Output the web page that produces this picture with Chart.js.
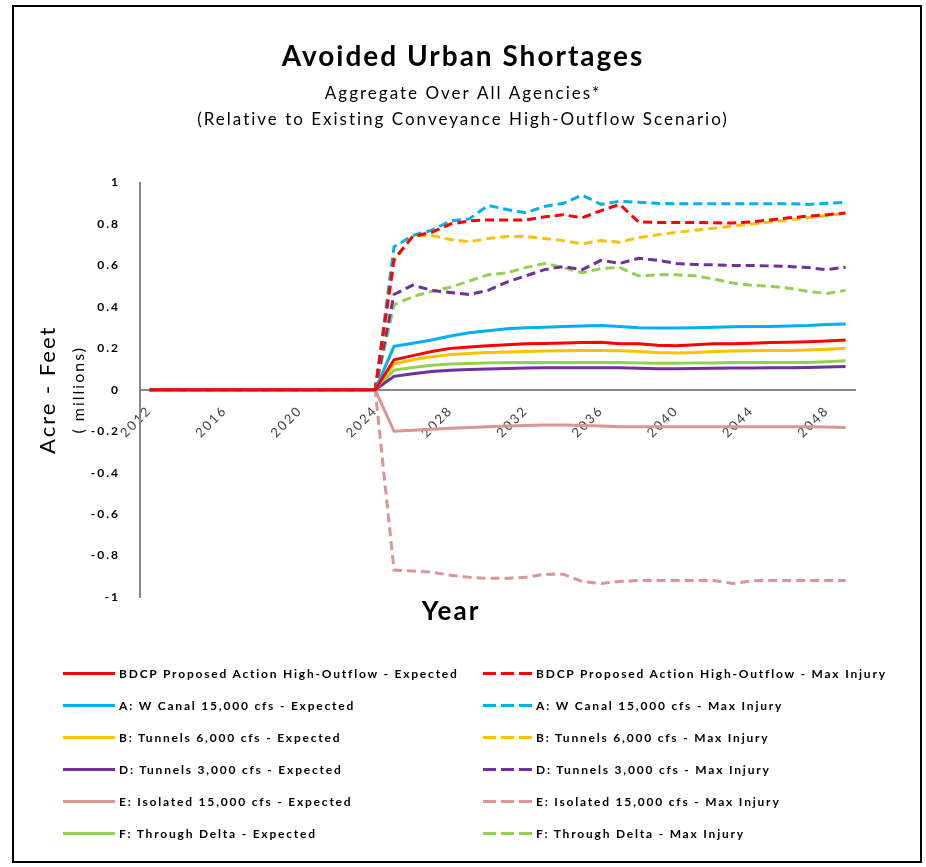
<!DOCTYPE html>
<html>
<head>
<meta charset="utf-8">
<title>Avoided Urban Shortages</title>
<script src="https://cdn.jsdelivr.net/npm/chart.js@4.4.1/dist/chart.umd.min.js"></script>
<style>
    body { margin: 0; background: #fff; font-family: Lato, "Open Sans", sans-serif; }
    #wrap { position: relative; width: 926px; height: 867px; }
    #plot-canvas { position: absolute; left: 0; top: 0; }
    #frame { position: absolute; left: 12px; top: 5px; width: 906px; height: 854px; border: 2px solid #000; pointer-events: none; }
    #legend { position: absolute; left: 0; top: 0; width: 926px; height: 867px; pointer-events: none; }
    .item { position: absolute; height: 16px; display: flex; align-items: center; font: bold 12px Lato, sans-serif; letter-spacing: 1.8px; color: #000; white-space: nowrap; }
    .swatch { width: 52px; height: 3px; margin-right: 4px; }
</style>
</head>
<body>
<div id="wrap">
    <canvas id="plot-canvas" width="926" height="867"></canvas>
    <div id="legend"></div>
    <div id="frame"></div>
</div>
<script>
"use strict";

const years = [2012, 2013, 2014, 2015, 2016, 2017, 2018, 2019, 2020, 2021, 2022, 2023, 2024,
    2025, 2026, 2027, 2028, 2029, 2030, 2031, 2032, 2033, 2034, 2035, 2036, 2037,
    2038, 2039, 2040, 2041, 2042, 2043, 2044, 2045, 2046, 2047, 2048, 2049];

const yTicks = [-1, -0.8, -0.6, -0.4, -0.2, 0, 0.2, 0.4, 0.6, 0.8, 1];

// Werte bis einschliesslich 2024 = 0
const bdcpExpected = [0, 0, 0, 0, 0, 0, 0, 0, 0, 0, 0, 0, 0,
    0.145, 0.165, 0.185, 0.20, 0.207, 0.213, 0.218, 0.222, 0.224, 0.226, 0.228, 0.23, 0.222,
    0.222, 0.215, 0.213, 0.218, 0.222, 0.222, 0.225, 0.228, 0.23, 0.232, 0.236, 0.24];
const bdcpMax = [0, 0, 0, 0, 0, 0, 0, 0, 0, 0, 0, 0, 0,
    0.63, 0.74, 0.76, 0.80, 0.815, 0.82, 0.82, 0.82, 0.835, 0.845, 0.83, 0.865, 0.895,
    0.81, 0.808, 0.808, 0.808, 0.806, 0.805, 0.81, 0.82, 0.83, 0.838, 0.845, 0.853];
const aExpected = [0, 0, 0, 0, 0, 0, 0, 0, 0, 0, 0, 0, 0,
    0.21, 0.225, 0.24, 0.26, 0.275, 0.285, 0.295, 0.30, 0.302, 0.305, 0.308, 0.31, 0.305,
    0.30, 0.298, 0.298, 0.30, 0.302, 0.304, 0.305, 0.306, 0.308, 0.31, 0.315, 0.318];
const aMax = [0, 0, 0, 0, 0, 0, 0, 0, 0, 0, 0, 0, 0,
    0.69, 0.745, 0.77, 0.815, 0.825, 0.89, 0.87, 0.855, 0.885, 0.9, 0.94, 0.895, 0.91,
    0.905, 0.9, 0.898, 0.898, 0.898, 0.898, 0.898, 0.898, 0.898, 0.895, 0.9, 0.905];
const bExpected = [0, 0, 0, 0, 0, 0, 0, 0, 0, 0, 0, 0, 0,
    0.125, 0.145, 0.16, 0.17, 0.175, 0.18, 0.182, 0.185, 0.187, 0.188, 0.19, 0.19, 0.188,
    0.185, 0.18, 0.178, 0.18, 0.185, 0.187, 0.188, 0.19, 0.19, 0.192, 0.196, 0.2];
const bMax = [0, 0, 0, 0, 0, 0, 0, 0, 0, 0, 0, 0, 0,
    0.62, 0.745, 0.745, 0.725, 0.715, 0.73, 0.74, 0.74, 0.73, 0.72, 0.705, 0.72, 0.712,
    0.735, 0.748, 0.76, 0.77, 0.78, 0.79, 0.80, 0.81, 0.82, 0.83, 0.84, 0.853];
const dExpected = [0, 0, 0, 0, 0, 0, 0, 0, 0, 0, 0, 0, 0,
    0.065, 0.078, 0.088, 0.094, 0.098, 0.1, 0.103, 0.105, 0.107, 0.107, 0.107, 0.107, 0.106,
    0.104, 0.102, 0.102, 0.103, 0.104, 0.105, 0.105, 0.106, 0.107, 0.108, 0.11, 0.112];
const dMax = [0, 0, 0, 0, 0, 0, 0, 0, 0, 0, 0, 0, 0,
    0.46, 0.505, 0.48, 0.47, 0.46, 0.48, 0.52, 0.55, 0.58, 0.595, 0.58, 0.625, 0.61,
    0.635, 0.625, 0.61, 0.605, 0.603, 0.60, 0.60, 0.598, 0.595, 0.59, 0.58, 0.592];
const eExpected = [0, 0, 0, 0, 0, 0, 0, 0, 0, 0, 0, 0, 0,
    -0.20, -0.195, -0.19, -0.185, -0.182, -0.178, -0.175, -0.172, -0.17, -0.17, -0.172, -0.175, -0.178,
    -0.178, -0.178, -0.178, -0.178, -0.178, -0.178, -0.178, -0.178, -0.178, -0.178, -0.18, -0.182];
const eMax = [0, 0, 0, 0, 0, 0, 0, 0, 0, 0, 0, 0, 0,
    -0.87, -0.875, -0.88, -0.895, -0.905, -0.91, -0.91, -0.905, -0.89, -0.89, -0.925, -0.935, -0.925,
    -0.92, -0.92, -0.92, -0.92, -0.92, -0.935, -0.922, -0.92, -0.92, -0.92, -0.92, -0.92];
const fExpected = [0, 0, 0, 0, 0, 0, 0, 0, 0, 0, 0, 0, 0,
    0.095, 0.108, 0.118, 0.124, 0.127, 0.13, 0.132, 0.132, 0.132, 0.132, 0.132, 0.132, 0.132,
    0.13, 0.128, 0.128, 0.13, 0.13, 0.132, 0.132, 0.132, 0.132, 0.132, 0.136, 0.14];
const fMax = [0, 0, 0, 0, 0, 0, 0, 0, 0, 0, 0, 0, 0,
    0.41, 0.45, 0.475, 0.495, 0.525, 0.555, 0.565, 0.59, 0.61, 0.59, 0.565, 0.585, 0.59,
    0.55, 0.555, 0.555, 0.55, 0.535, 0.515, 0.505, 0.50, 0.49, 0.475, 0.465, 0.48];

const seriesNames = [
    "BDCP Proposed Action High-Outflow", "A: W Canal 15,000 cfs", "B: Tunnels 6,000 cfs",
    "D: Tunnels 3,000 cfs", "E: Isolated 15,000 cfs", "F: Through Delta"
];
const colors = ["#FF0000", "#00B0F0", "#FFC000", "#7030A0", "#DA9694", "#92D050"];
const expected = [bdcpExpected, aExpected, bExpected, dExpected, eExpected, fExpected];
const maxInjury = [bdcpMax, aMax, bMax, dMax, eMax, fMax];

const font = "Lato, 'Open Sans', sans-serif";
const ctx = document.getElementById('plot-canvas').getContext('2d');

// Datensätze: erst gestrichelt, dann durchgezogen (oben)
const datasets = [];
seriesNames.forEach((name, i) => {
    datasets.push({
        label: name + " - Max Injury", data: maxInjury[i], borderColor: colors[i],
        borderWidth: 3, borderDash: [9, 5], pointRadius: 0, tension: 0, order: 1
    });
});
seriesNames.forEach((name, i) => {
    datasets.push({
        label: name + " - Expected", data: expected[i], borderColor: colors[i],
        borderWidth: 3, pointRadius: 0, tension: 0, order: 0
    });
});

// breite Laufweite wie im Original (Titel + Achsen)
const spacing = {
    id: 'spacing',
    beforeDraw(chart) { chart.ctx.letterSpacing = "2px"; },
    beforeDatasetsDraw(chart) { chart.ctx.letterSpacing = "0px"; }
};

// Achsentitel "Year" und "Acre - Feet"
const axisTitles = {
    id: 'axisTitles',
    afterDraw(chart) {
        const c = chart.ctx;
        const area = chart.chartArea;
        const mid = (area.top + area.bottom) / 2;
        c.save();
        c.letterSpacing = "2px";
        c.fillStyle = "#000";
        c.textAlign = "center";
        c.textBaseline = "middle";
        c.font = "bold 26px " + font;
        c.fillText("Year", area.left + 311, area.bottom + 15);
        c.translate(48, mid);
        c.rotate(-Math.PI / 2);
        c.font = "22px " + font;
        c.fillText("Acre - Feet", 0, 0);
        c.font = "16px " + font;
        c.fillText("( millions)", 0, 31);
        c.restore();
    }
};

const chart = new Chart(ctx, {
    type: 'line',
    data: { labels: years, datasets: datasets },
    options: {
        responsive: false,
        animation: false,
        layout: { padding: { top: 10, right: 0, bottom: 270, left: 0 } },
        plugins: {
            legend: { display: false },
            tooltip: { enabled: false },
            title: {
                display: true, text: "Avoided Urban Shortages", color: "#000",
                font: { family: font, size: 28, weight: 'bold', lineHeight: 1.2 }, padding: { top: 30, bottom: 0 }
            },
            subtitle: {
                display: true, color: "#000",
                text: ["Aggregate Over All Agencies*", "(Relative to Existing Conveyance High-Outflow Scenario)"],
                font: { family: font, size: 17, lineHeight: 1.53 }, padding: { top: 7, bottom: 50 }
            }
        },
        scales: {
            x: {
                type: 'category',
                offset: true,
                position: { y: 0 },
                grid: { drawOnChartArea: false, drawTicks: false },
                border: { color: "#888", width: 2 },
                ticks: {
                    autoSkip: false, minRotation: 45, maxRotation: 45, padding: 13,
                    color: "#404040", font: { family: font, size: 13 },
                    callback: function (v, i) {
                        const yr = years[i];
                        return (yr - 2012) % 4 === 0 ? String(yr) : "";
                    }
                }
            },
            y: {
                min: -1, max: 1,
                afterFit: scale => { scale.width = 140; },
                afterBuildTicks: scale => { scale.ticks = yTicks.map(v => ({ value: v })); },
                grid: { drawOnChartArea: false, drawTicks: false },
                border: { color: "#888", width: 2 },
                ticks: {
                    padding: 20, color: "#000", font: { family: font, size: 12, weight: 'bold' },
                    callback: v => String(Math.round(v * 10) / 10)
                }
            },
            // leerer Rand rechts, damit der Titel mittig bleibt
            yRight: {
                position: 'right', min: -1, max: 1,
                afterFit: scale => { scale.width = 71; },
                grid: { drawOnChartArea: false, drawTicks: false },
                border: { display: false },
                ticks: { display: false }
            }
        }
    },
    plugins: [spacing, axisTitles]
});

// Legende in zwei Spalten
const legend = document.getElementById('legend');
seriesNames.forEach((name, i) => {
    const row = 665 + i * 32;
    [[63, false, " - Expected"], [483, true, " - Max Injury"]].forEach(([left, dashed, suffix]) => {
        const el = document.createElement('div');
        el.className = 'item';
        el.style.left = left + 'px';
        el.style.top = row + 'px';
        const sw = document.createElement('span');
        sw.className = 'swatch';
        sw.style.background = dashed
            ? `repeating-linear-gradient(to right, ${colors[i]} 0 13px, transparent 13px 18px)`
            : colors[i];
        if (dashed) sw.style.width = '49px';
        el.appendChild(sw);
        el.appendChild(document.createTextNode(name + suffix));
        legend.appendChild(el);
    });
});
</script>
</body>
</html>
